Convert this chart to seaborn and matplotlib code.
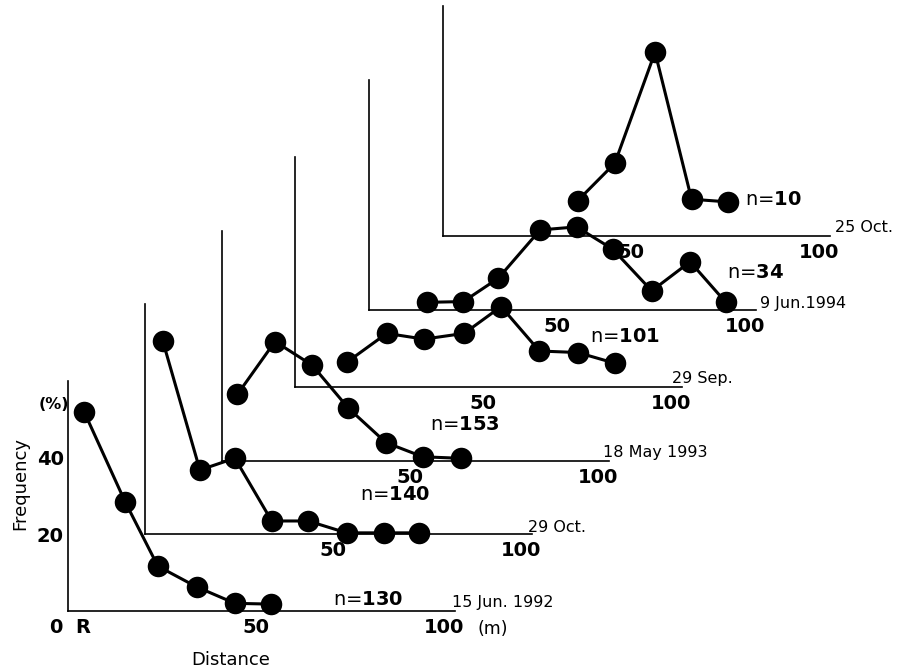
import matplotlib
matplotlib.use("Agg")
import matplotlib.pyplot as plt
import seaborn as sns
import pandas as pd

# ---------------- data ----------------
dates = ["15 Jun. 1992", "29 Oct.", "18 May 1993", "29 Sep.", "9 Jun.1994", "25 Oct."]
sample_sizes = [130, 140, 153, 101, 34, 10]

dist_1 = [4.3, 15.2, 23.9, 34.2, 44.4, 54.0]
freq_1 = [52.0, 28.5, 11.7, 6.3, 2.0, 1.8]

dist_2 = [4.7, 14.6, 23.9, 33.7, 43.4, 53.6, 63.6, 73.0]
freq_2 = [50.5, 16.7, 19.8, 3.4, 3.4, 0.3, 0.3, 0.3]

dist_3 = [4.1, 14.1, 24.0, 33.6, 43.6, 53.4, 63.6]
freq_3 = [17.4, 31.2, 25.0, 13.8, 4.8, 1.1, 0.7]

dist_4 = [13.7, 24.4, 34.3, 45.0, 54.8, 65.0, 75.2, 85.1]
freq_4 = [6.4, 14.0, 12.5, 14.0, 21.0, 9.4, 9.0, 6.2]

dist_5 = [15.3, 25.1, 34.4, 45.5, 55.2, 64.8, 75.2, 85.4, 94.9]
freq_5 = [2.0, 2.2, 8.3, 20.9, 21.7, 15.9, 5.0, 12.6, 2.0]

dist_6 = [35.8, 45.7, 56.4, 66.1, 75.9]
freq_6 = [9.2, 19.0, 48.0, 9.6, 8.9]

x_ticks = [4, 50, 100]
x_tick_labels_first = ["R", "50", "100"]
x_tick_labels_other = ["", "50", "100"]
y_ticks = [20, 40]
y_tick_labels = ["20", "40"]

dists = [dist_1, dist_2, dist_3, dist_4, dist_5, dist_6]
freqs = [freq_1, freq_2, freq_3, freq_4, freq_5, freq_6]

# ---------------- layout ----------------
W, H = 897, 670
PX_PER_M = 3.76
PX_PER_PCT = 3.83
X_MAX, Y_MAX = 103, 60
origins = [(68, 611), (145, 534), (222, 461), (295, 387), (369, 310), (443, 236)]
n_label_pos = [(79.8, 2.9), (66.5, 10.2), (64.6, 9.4), (87.8, 13.1), (102.9, 9.9), (88.0, 9.4)]
date_label_pos = [(102.1, 2.3), (101.9, 1.6), (101.3, 2.1), (100.3, 2.3), (104.0, 1.8), (104.3, 2.3)]

sns.set_style("white")
plt.rcParams["font.family"] = ["DejaVu Sans"]
plt.rcParams["mathtext.fontset"] = "dejavusans"
plt.rcParams["text.color"] = "black"
plt.rcParams["axes.labelcolor"] = "black"
plt.rcParams["xtick.color"] = "black"
plt.rcParams["ytick.color"] = "black"

fig = plt.figure(figsize=(W / 100, H / 100), dpi=100)
fig.patch.set_facecolor("white")

axes = [None] * 6
for i in reversed(range(6)):
    ox, oy = origins[i]
    rect = [ox / W, 1 - oy / H, X_MAX * PX_PER_M / W, Y_MAX * PX_PER_PCT / H]
    ax = fig.add_axes(rect)
    axes[i] = ax
    ax.patch.set_visible(False)
    df = pd.DataFrame({"Distance": dists[i], "Frequency": freqs[i]})
    sns.lineplot(data=df, x="Distance", y="Frequency", ax=ax, color="black",
                 lw=2.2, marker="o", markersize=15.5, markeredgewidth=0,
                 markerfacecolor="black", clip_on=False, sort=False, zorder=5)
    ax.set_xlim(0, X_MAX)
    ax.set_ylim(0, Y_MAX)
    ax.set_xlabel("")
    ax.set_ylabel("")
    for s in ["top", "right"]:
        ax.spines[s].set_visible(False)
    for s in ["left", "bottom"]:
        ax.spines[s].set_linewidth(1.2)
        ax.spines[s].set_color("black")
    ax.set_xticks(x_ticks)
    ax.set_xticklabels(x_tick_labels_first if i == 0 else x_tick_labels_other,
                       fontweight="bold", fontsize=14, color="black")
    ax.set_yticks(y_ticks)
    if i == 0:
        ax.set_yticklabels(y_tick_labels, fontweight="bold", fontsize=14, color="black")
    else:
        ax.set_yticklabels(["", ""])
    ax.tick_params(axis="x", direction="in", length=5, width=1, pad=5, colors="black")
    ax.tick_params(axis="y", direction="in", length=5, width=1, pad=3, colors="black")

    nx, ny = n_label_pos[i]
    ax.text(nx, ny, f"n=$\\mathbf{{{sample_sizes[i]}}}$", fontsize=14, color="black",
            ha="center", va="center", clip_on=False)
    dx, dy = date_label_pos[i]
    ax.text(dx, dy, dates[i], fontsize=11.5, color="black", ha="left", va="center",
            clip_on=False)

ax1 = axes[0]
ax1.text(-3.2, -4.2, "0", fontsize=14, fontweight="bold", color="black", ha="center", va="center")
ax1.text(113, -4.7, "(m)", fontsize=12.5, color="black", ha="center", va="center")
ax1.text(-3.7, 53.8, "(%)", fontsize=11.5, fontweight="bold", color="black", ha="center", va="center")
ax1.text(-12.8, 33.2, "Frequency", fontsize=13, color="black", rotation=90, ha="center", va="center")
ax1.text(43.4, -12.8, "Distance", fontsize=13, color="black", ha="center", va="center")

fig.savefig("out.png", dpi=100)
